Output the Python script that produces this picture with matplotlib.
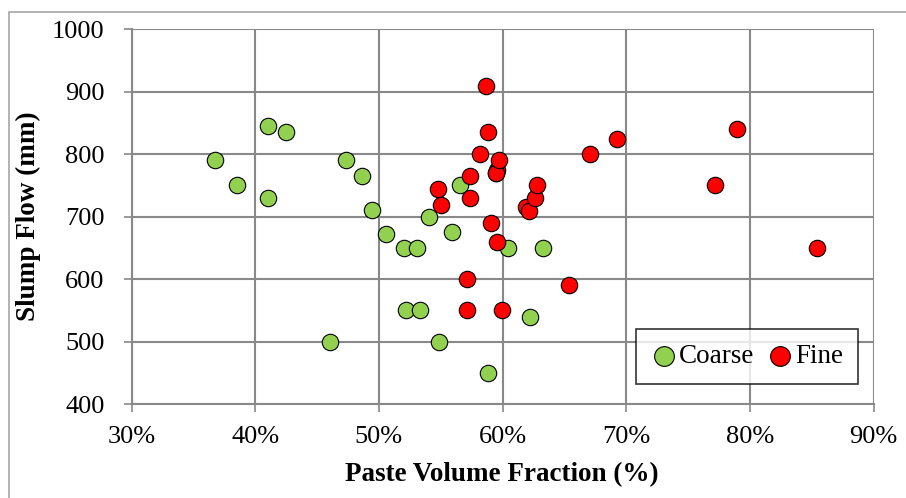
import matplotlib
matplotlib.use("Agg")
import matplotlib.pyplot as plt
from matplotlib.patches import Rectangle
from matplotlib.ticker import FuncFormatter, MultipleLocator

# paste volume fraction (%) and slump flow (mm)
coarse_x = [36.75, 38.55, 41.06, 41.06, 42.47, 46.05, 47.34, 48.6, 49.47, 50.57,
            52.03, 52.2, 53.1, 53.3, 54.08, 54.83, 55.9, 56.56, 58.85, 59.5,
            60.4, 62.2, 63.24]
coarse_y = [790, 750, 845, 730, 835, 500, 790, 765, 710, 673,
            650, 550, 650, 550, 700, 500, 675, 750, 450, 770,
            650, 540, 650]

fine_x = [54.8, 55.0, 57.1, 57.12, 57.4, 57.4, 58.17, 58.63, 58.84, 59.04,
          59.52, 59.5, 59.55, 59.68, 59.93, 61.9, 62.1, 62.6, 62.75, 65.37,
          67.07, 69.25, 77.17, 78.92, 85.4]
fine_y = [745, 718, 550, 600, 765, 730, 800, 910, 835, 690,
          775, 770, 660, 790, 550, 716, 709, 730, 750, 590,
          800, 825, 750, 840, 650]

GRID = "#898989"
SERIF = ["Liberation Serif", "DejaVu Serif"]

fig = plt.figure(figsize=(9.06, 4.98), dpi=100)
# chart-area border (cropped on the right and bottom in the original)
fig.patches.append(Rectangle((9 / 906, -0.1), 1.2, 1.1 - 12 / 498, transform=fig.transFigure,
                             fill=False, edgecolor="#a6a6a6", linewidth=1.2))

ax = fig.add_axes([131.5 / 906, 1 - 404 / 498, (873.7 - 131.5) / 906, (404 - 29.3) / 498])

ax.scatter(coarse_x, coarse_y, s=140, color="#92D050", edgecolor="black", linewidth=0.8,
           label="Coarse", zorder=3, clip_on=False)
ax.scatter(fine_x, fine_y, s=140, color="#FF0000", edgecolor="black", linewidth=0.8,
           label="Fine", zorder=4, clip_on=False)

ax.set_xlim(30, 90)
ax.set_ylim(400, 1000)
ax.xaxis.set_major_locator(MultipleLocator(10))
ax.yaxis.set_major_locator(MultipleLocator(100))
ax.xaxis.set_major_formatter(FuncFormatter(lambda v, _: f"{v:.0f}%"))

ax.grid(True, color=GRID, linewidth=1.5)
ax.set_axisbelow(True)
for side in ("top", "right"):
    ax.spines[side].set_visible(False)
for side in ("left", "bottom"):
    ax.spines[side].set_color(GRID)
    ax.spines[side].set_linewidth(1.5)
ax.tick_params(direction="out", length=5.5, width=1.2, color=GRID, labelsize=19)
ax.tick_params(axis="y", pad=14)
ax.tick_params(axis="x", pad=10)
for lab in ax.get_xticklabels() + ax.get_yticklabels():
    lab.set_family(SERIF)

ax.set_xlabel("Paste Volume Fraction (%)", family=SERIF, fontsize=19.5, fontweight="bold")
ax.set_ylabel("Slump Flow (mm)", family=SERIF, fontsize=19.5, fontweight="bold")
ax.xaxis.set_label_coords(0.499, -0.155)
ax.yaxis.set_label_coords(-0.122, 0.5)

leg = ax.legend(loc="center", bbox_to_anchor=(0.829, 0.126), ncol=2, frameon=True,
                fancybox=False, prop={"family": SERIF, "size": 19.5}, handlelength=1.0,
                handletextpad=0.05, columnspacing=0.45, borderpad=0.55, markerscale=1.2)
leg.get_frame().set_edgecolor("black")
leg.get_frame().set_linewidth(1.2)

fig.savefig("out.png", dpi=100)
